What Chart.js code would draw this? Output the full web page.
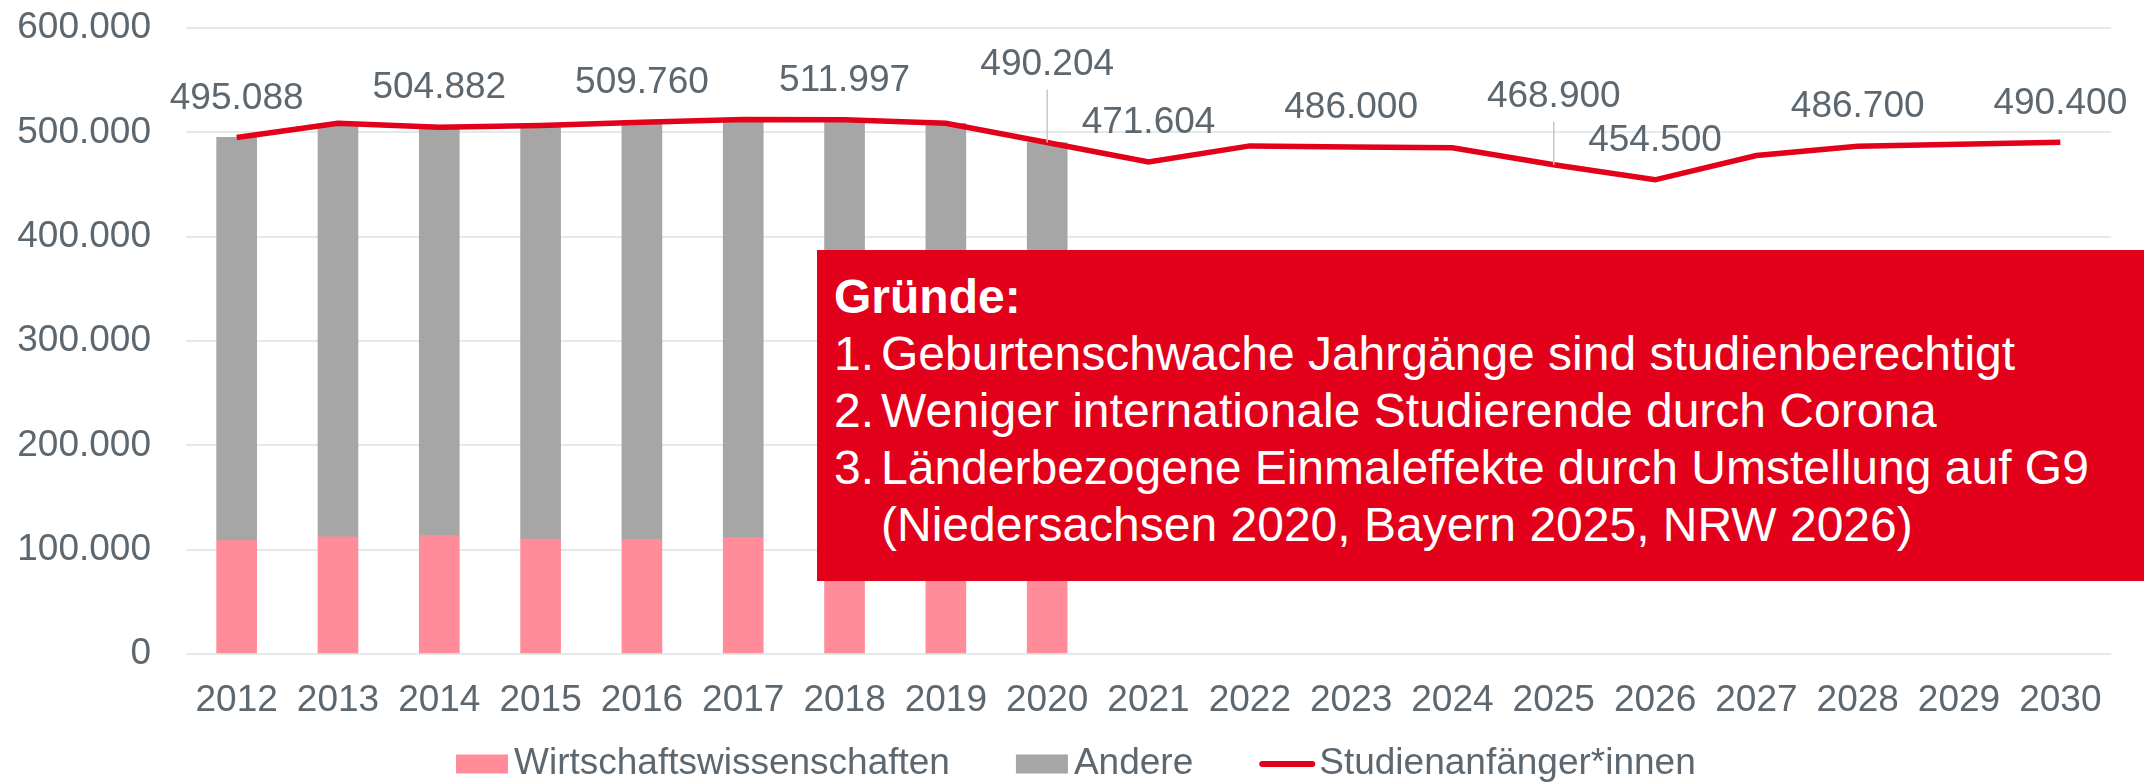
<!DOCTYPE html>
<html lang="de">
<head>
<meta charset="utf-8">
<script src="https://cdn.jsdelivr.net/npm/chart.js@4"></script>
<style>
  html, body { margin: 0; padding: 0; background: #fff; }
  #wrap { position: relative; width: 2144px; height: 782px; overflow: hidden; }
  #reasons {
    position: absolute; left: 817px; top: 250px; width: 1327px; height: 331px;
    box-sizing: border-box; padding: 18px 0 0 17px;
    background: #e2001a; color: #fff;
    font-family: "Liberation Sans", Arial, sans-serif; font-size: 48px; line-height: 57px;
    white-space: nowrap;
  }
  #reasons .num { display: inline-block; width: 47px; }
  #reasons .indent { padding-left: 47px; }
</style>
</head>
<body>
<div id="wrap">
  <canvas id="anfaengerChart"></canvas>
  <div id="reasons">
    <div><b>Gründe:</b></div>
    <div><span class="num">1.</span>Geburtenschwache Jahrgänge sind studienberechtigt</div>
    <div><span class="num">2.</span>Weniger internationale Studierende durch Corona</div>
    <div><span class="num">3.</span>Länderbezogene Einmaleffekte durch Umstellung auf G9</div>
    <div class="indent">(Niedersachsen 2020, Bayern 2025, NRW 2026)</div>
  </div>
</div>
<script>
// Studienanfänger*innen 2012-2030 (ab 2021 Prognose)
const years = ["2012", "2013", "2014", "2015", "2016", "2017", "2018", "2019", "2020",
    "2021", "2022", "2023", "2024", "2025", "2026", "2027", "2028", "2029", "2030"];

const wiwi = [108600, 112400, 113400, 110200, 109900, 111500, 111000, 110000, 108000];
const andere = [386500, 396200, 391500, 396400, 399900, 400900, 401000, 398700, 382200];
const anfaenger = [495088, 508621, 504882, 506580, 509760, 512419, 511997, 508689, 490204,
    471604, 487000, 486000, 485200, 468900, 454500, 477800, 486700, 488600, 490400];

// welche Punkte beschriftet werden
const labelledYears = ["2012", "2014", "2016", "2018", "2020", "2021", "2023", "2025", "2026", "2028", "2030"];

const yTicks = [0, 100000, 200000, 300000, 400000, 500000, 600000];

const FONT = "'Liberation Sans', Arial, sans-serif";
const TEXT = "#5c6770";
const RED = "#e2001a";

const fmt = (v) => String(v).replace(/\B(?=(\d{3})+(?!\d))/g, ".");

// Abstand Beschriftung über dem Punkt, zwei davon mit Führungslinie
const liftDefault = 39;
const liftSpecial = { "2020": 78, "2025": 68 };

const valueLabels = {
    id: "valueLabels",
    afterDatasetsDraw(chart) {
        const { ctx } = chart;
        const meta = chart.getDatasetMeta(0);
        ctx.save();
        ctx.font = "37px " + FONT;
        ctx.fillStyle = TEXT;
        ctx.textAlign = "center";
        ctx.textBaseline = "middle";
        labelledYears.forEach((yr) => {
            const i = years.indexOf(yr);
            const pt = meta.data[i];
            const lift = liftSpecial[yr] || liftDefault;
            const ly = pt.y - lift;
            if (liftSpecial[yr]) {
                ctx.strokeStyle = "#c3c9cd";
                ctx.lineWidth = 1.5;
                ctx.beginPath();
                ctx.moveTo(pt.x, ly + 25);
                ctx.lineTo(pt.x, pt.y);
                ctx.stroke();
            }
            ctx.fillText(fmt(anfaenger[i]), pt.x, ly);
        });
        ctx.restore();
    },
};

const bottomLegend = {
    id: "bottomLegend",
    afterDraw(chart) {
        const { ctx } = chart;
        const y = 764;
        let x = 456;
        ctx.save();
        ctx.font = "37px " + FONT;
        ctx.textBaseline = "middle";
        ctx.textAlign = "left";
        [1, 2, 0].forEach((di) => {
            const ds = chart.data.datasets[di];
            if (ds.type === "line") {
                ctx.strokeStyle = ds.borderColor;
                ctx.lineWidth = 6;
                ctx.lineCap = "round";
                ctx.beginPath();
                ctx.moveTo(x + 3, y);
                ctx.lineTo(x + 53, y);
                ctx.stroke();
                x += 60;
            } else {
                ctx.fillStyle = ds.backgroundColor;
                ctx.fillRect(x, y - 9.5, 52, 19);
                x += 58;
            }
            ctx.fillStyle = TEXT;
            ctx.fillText(ds.label, x, y);
            x += ctx.measureText(ds.label).width + 66;
        });
        ctx.restore();
    },
};

const chart = new Chart(document.getElementById("anfaengerChart"), {
    data: {
        labels: years,
        datasets: [
            {
                type: "line",
                label: "Studienanfänger*innen",
                data: anfaenger,
                borderColor: RED,
                borderWidth: 5.5,
                pointRadius: 0,
                tension: 0,
                stack: "line",
                order: 0,
            },
            {
                type: "bar",
                label: "Wirtschaftswissenschaften",
                data: wiwi,
                backgroundColor: "#ff8c98",
                barThickness: 40,
                stack: "bars",
                order: 1,
            },
            {
                type: "bar",
                label: "Andere",
                data: andere,
                backgroundColor: "#a6a6a6",
                barThickness: 40,
                stack: "bars",
                order: 2,
            },
        ],
    },
    options: {
        responsive: true,
        maintainAspectRatio: false,
        animation: false,
        layout: { padding: { top: 28, right: 33, left: 0, bottom: 0 } },
        plugins: {
            legend: { display: false },
            tooltip: { enabled: false },
        },
        scales: {
            x: {
                stacked: true,
                grid: { display: false },
                border: { display: false },
                ticks: {
                    color: TEXT,
                    font: { family: FONT, size: 37 },
                    padding: 17,
                    maxRotation: 0,
                    autoSkip: false,
                },
                afterFit: (axis) => { axis.height = 128; },
            },
            y: {
                stacked: true,
                min: 0,
                max: 600000,
                grid: { color: "#e4e9e9", lineWidth: 2, drawTicks: false },
                border: { display: false },
                afterBuildTicks: (axis) => { axis.ticks = yTicks.map((v) => ({ value: v })); },
                ticks: {
                    color: TEXT,
                    font: { family: FONT, size: 37 },
                    padding: 35,
                    callback: (v) => fmt(v),
                },
                afterFit: (axis) => {
                    axis.width = 186;
                    axis.paddingTop = 0;
                    axis.paddingBottom = 0;
                },
            },
        },
    },
    plugins: [valueLabels, bottomLegend],
});
</script>
</body>
</html>
